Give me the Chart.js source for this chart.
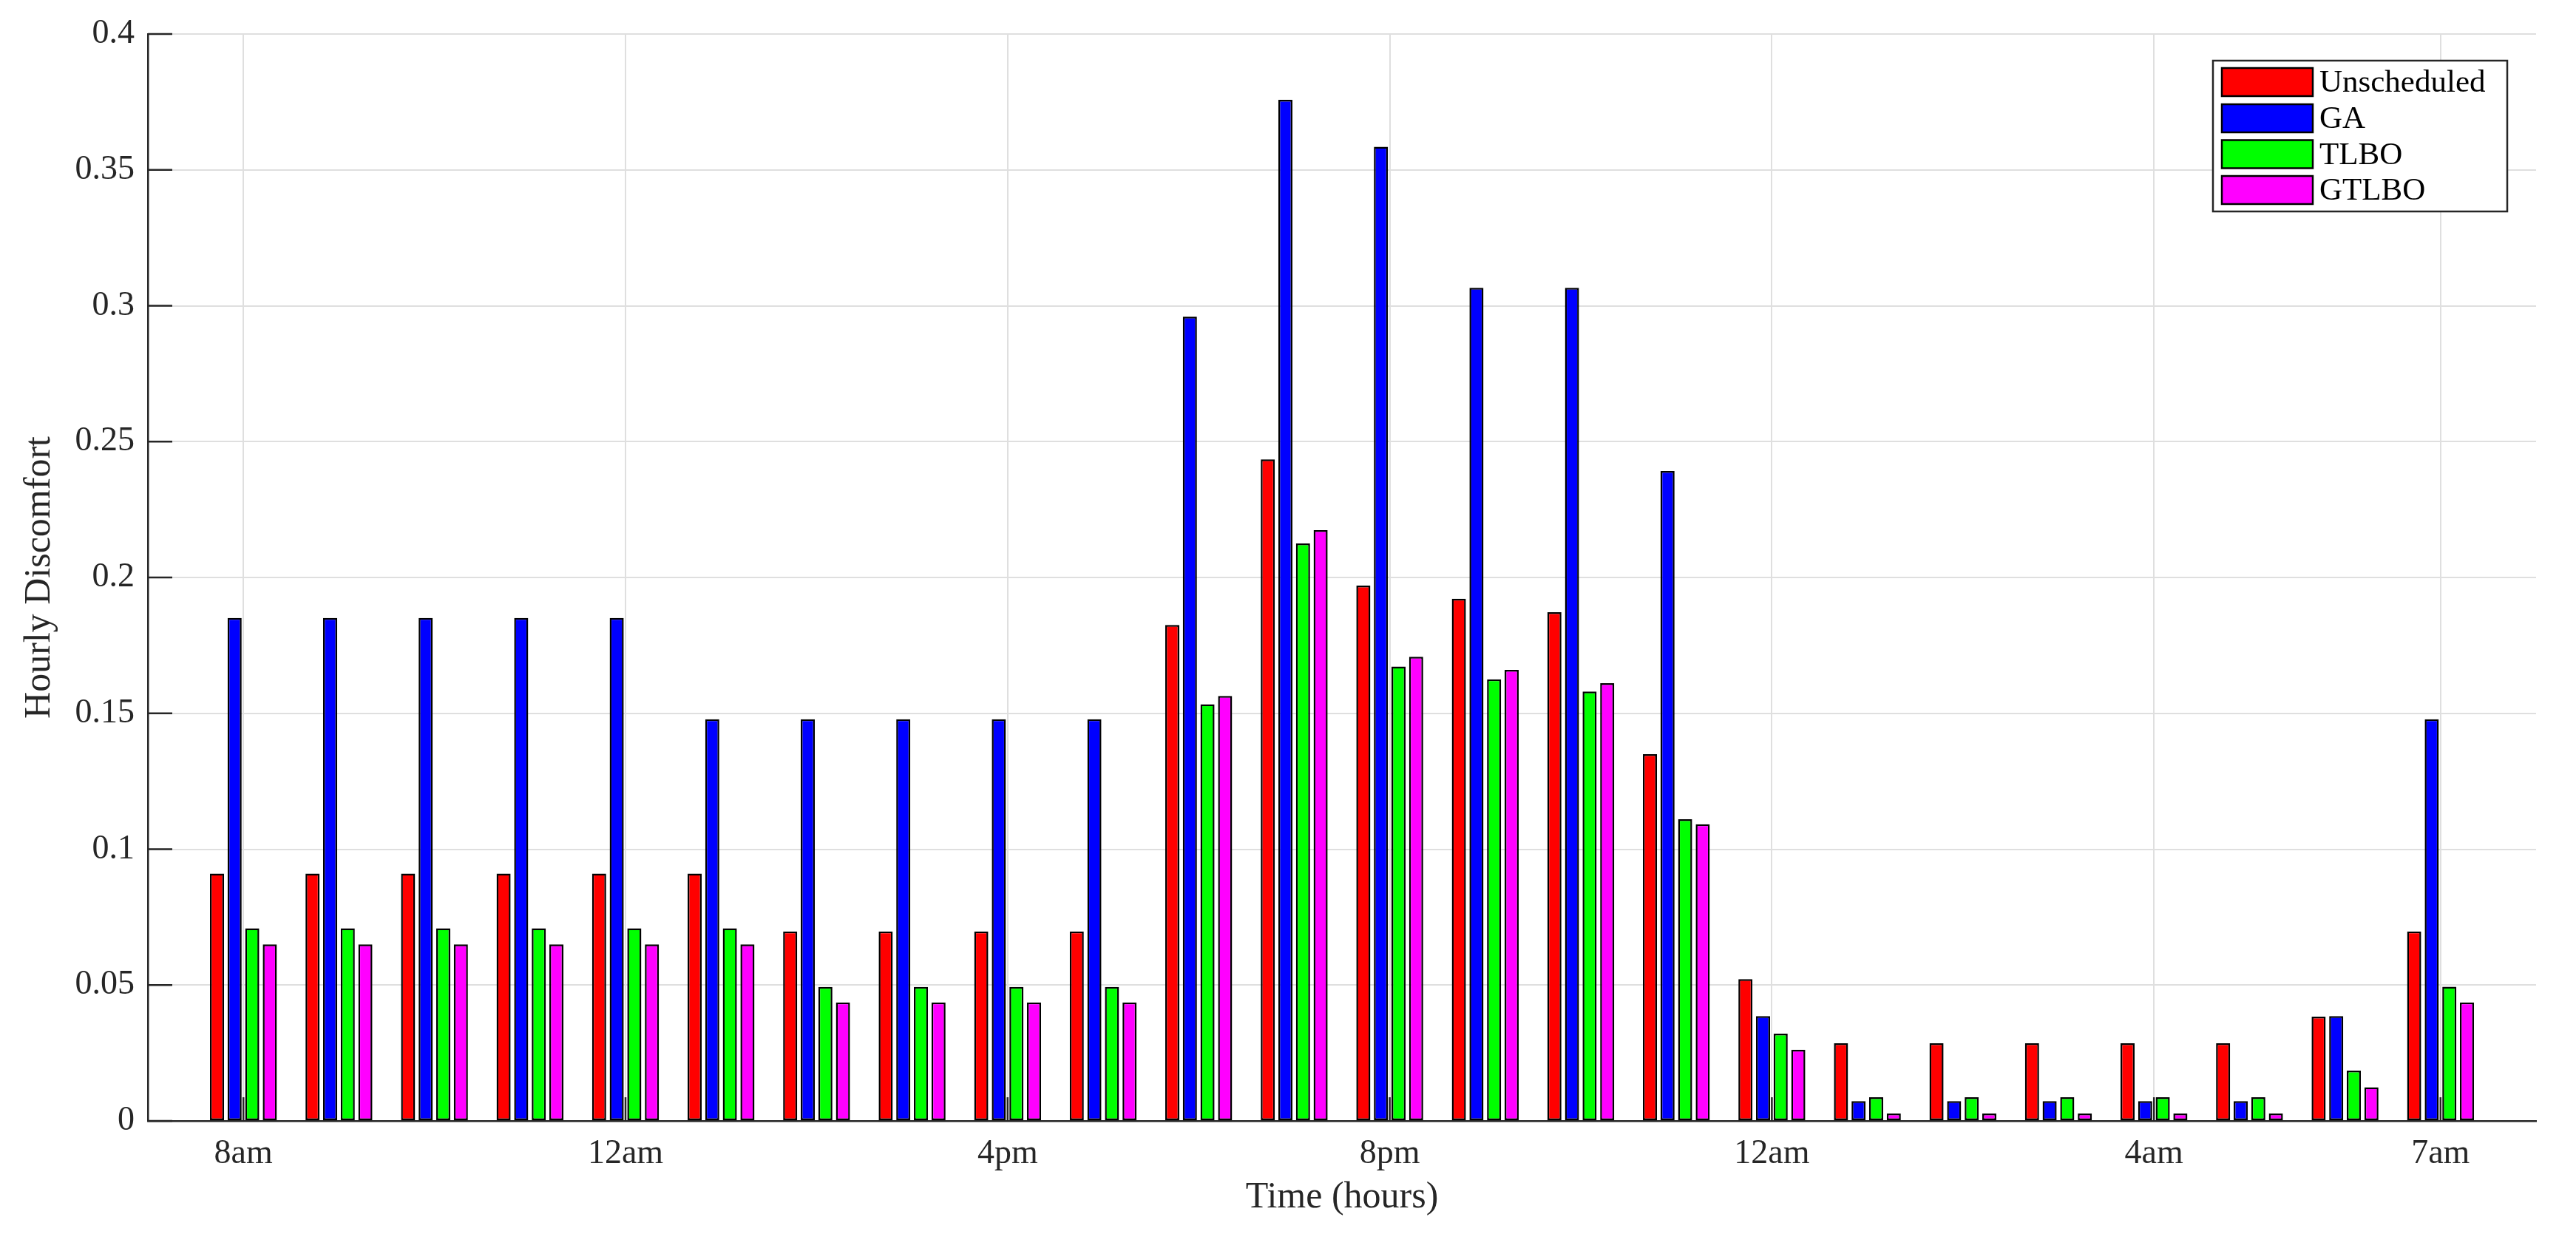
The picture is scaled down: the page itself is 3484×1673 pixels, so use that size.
<!DOCTYPE html>
<html>
<head>
<meta charset="utf-8">
<script src="https://cdn.jsdelivr.net/npm/chart.js@4/dist/chart.umd.min.js"></script>
<style>
  html, body { margin: 0; padding: 0; background: #ffffff; }
  #wrap { width: 3484px; height: 1673px; }
</style>
</head>
<body>
<div id="wrap"><canvas id="c" width="3484" height="1673"></canvas></div>
<script>
// ---- data ----
const hourIndex = [1,2,3,4,5,6,7,8,9,10,11,12,13,14,15,16,17,18,19,20,21,22,23,24];
const tickPositions = [1, 5, 9, 13, 17, 21, 24];
const tickLabels = ['8am', '12am', '4pm', '8pm', '12am', '4am', '7am'];
const seriesNames = ['Unscheduled', 'GA', 'TLBO', 'GTLBO'];

const unscheduled = [0.091,0.091,0.091,0.091,0.091,0.091,0.0697,0.0697,0.0697,0.0697,
  0.1825,0.2435,0.197,0.1922,0.1872,0.135,0.0522,0.0286,0.0286,0.0286,0.0286,0.0286,0.0384,0.0697];
const ga = [0.1851,0.1851,0.1851,0.1851,0.1851,0.1478,0.1478,0.1478,0.1478,0.1478,
  0.296,0.3758,0.3585,0.3066,0.3066,0.2392,0.0386,0.0073,0.0073,0.0073,0.0073,0.0073,0.0386,0.1478];
const tlbo = [0.0709,0.0709,0.0709,0.0709,0.0709,0.0709,0.0493,0.0493,0.0493,0.0493,
  0.1533,0.2125,0.1672,0.1625,0.158,0.111,0.0321,0.0087,0.0087,0.0087,0.0087,0.0087,0.0185,0.0494];
const gtlbo = [0.065,0.065,0.065,0.065,0.065,0.065,0.0436,0.0436,0.0436,0.0436,
  0.1564,0.2174,0.1708,0.166,0.1611,0.1092,0.0262,0.0027,0.0027,0.0027,0.0027,0.0027,0.0124,0.0436];

const seriesValues = [unscheduled, ga, tlbo, gtlbo];
const seriesColors = ['#ff0000', '#0000ff', '#00ff00', '#ff00ff'];

// ---- styling ----
const SERIF = "'Liberation Serif', 'Times New Roman', serif";
const AXIS_COLOR = '#262626';
const GRID_COLOR = '#dfdfdf';

const datasets = seriesNames.map((name, s) => ({
  label: name,
  data: hourIndex.map((h, i) => ({ x: h, y: seriesValues[s][i] })),
  backgroundColor: seriesColors[s],
  borderColor: '#000000',
  borderWidth: 2.5,
  borderSkipped: false,
  categoryPercentage: 0.737,
  barPercentage: 0.80
}));

// inner tick marks (MATLAB style)
const innerTicks = {
  id: 'innerTicks',
  afterDatasetsDraw(chart) {
    const ctx = chart.ctx;
    const xs = chart.scales.x, ys = chart.scales.y;
    const area = chart.chartArea;
    ctx.save();
    ctx.strokeStyle = AXIS_COLOR;
    ctx.lineWidth = 2.5;
    ctx.beginPath();
    xs.ticks.forEach(t => {
      const px = xs.getPixelForValue(t.value);
      ctx.moveTo(px, area.bottom);
      ctx.lineTo(px, area.bottom - 32);
    });
    ys.ticks.forEach(t => {
      const py = ys.getPixelForValue(t.value);
      ctx.moveTo(area.left, py);
      ctx.lineTo(area.left + 33, py);
    });
    ctx.stroke();
    ctx.restore();
  }
};

// boxed legend inside the plot (top right)
const boxLegend = {
  id: 'boxLegend',
  afterDraw(chart) {
    const ctx = chart.ctx;
    const ds = chart.data.datasets;
    const bx = 2993, by = 82, bw = 398, bh = 204;
    ctx.save();
    ctx.fillStyle = '#ffffff';
    ctx.fillRect(bx, by, bw, bh);
    ctx.strokeStyle = AXIS_COLOR;
    ctx.lineWidth = 2.5;
    ctx.strokeRect(bx, by, bw, bh);
    const rowY = [111, 160, 208.5, 257];
    ctx.font = '43px ' + SERIF;
    ctx.textBaseline = 'middle';
    ctx.textAlign = 'left';
    ds.forEach((d, i) => {
      const cy = rowY[i];
      ctx.fillStyle = d.backgroundColor;
      ctx.fillRect(3005, cy - 19, 123, 38);
      ctx.strokeStyle = '#000000';
      ctx.lineWidth = 2.5;
      ctx.strokeRect(3005, cy - 19, 123, 38);
      ctx.fillStyle = '#000000';
      ctx.fillText(d.label, 3137, cy + 2);
    });
    ctx.restore();
  }
};

new Chart(document.getElementById('c'), {
  type: 'bar',
  data: { datasets },
  plugins: [innerTicks, boxLegend],
  options: {
    responsive: false,
    animation: false,
    devicePixelRatio: 1,
    layout: { padding: { top: 46, right: 54, left: 0, bottom: 0 } },
    plugins: {
      legend: { display: false },
      tooltip: { enabled: false }
    },
    scales: {
      x: {
        type: 'linear',
        min: 0,
        max: 25,
        offset: false,
        afterBuildTicks(scale) {
          scale.ticks = tickPositions.map(v => ({ value: v }));
        },
        afterFit(scale) { scale.height = 157; },
        ticks: {
          autoSkip: false,
          maxRotation: 0,
          padding: 17,
          color: AXIS_COLOR,
          font: { family: SERIF, size: 46 },
          callback: (value, index) => tickLabels[index]
        },
        grid: {
          offset: false,
          color: GRID_COLOR,
          lineWidth: 2,
          drawTicks: false
        },
        border: { display: true, color: AXIS_COLOR, width: 2.5 },
        title: {
          display: true,
          text: 'Time (hours)',
          color: AXIS_COLOR,
          font: { family: SERIF, size: 50 },
          padding: { top: 0, bottom: 23 }
        }
      },
      y: {
        min: 0,
        max: 0.4,
        afterFit(scale) { scale.width = 200; },
        ticks: {
          stepSize: 0.05,
          padding: 18,
          color: AXIS_COLOR,
          font: { family: SERIF, size: 46 },
          callback: (value) => String(parseFloat(Number(value).toFixed(2)))
        },
        grid: {
          color: GRID_COLOR,
          lineWidth: 2,
          drawTicks: false
        },
        border: { display: true, color: AXIS_COLOR, width: 2.5 },
        title: {
          display: true,
          text: 'Hourly Discomfort',
          color: AXIS_COLOR,
          font: { family: SERIF, size: 50 },
          padding: { top: 24, bottom: 0 }
        }
      }
    }
  }
});
</script>
</body>
</html>
